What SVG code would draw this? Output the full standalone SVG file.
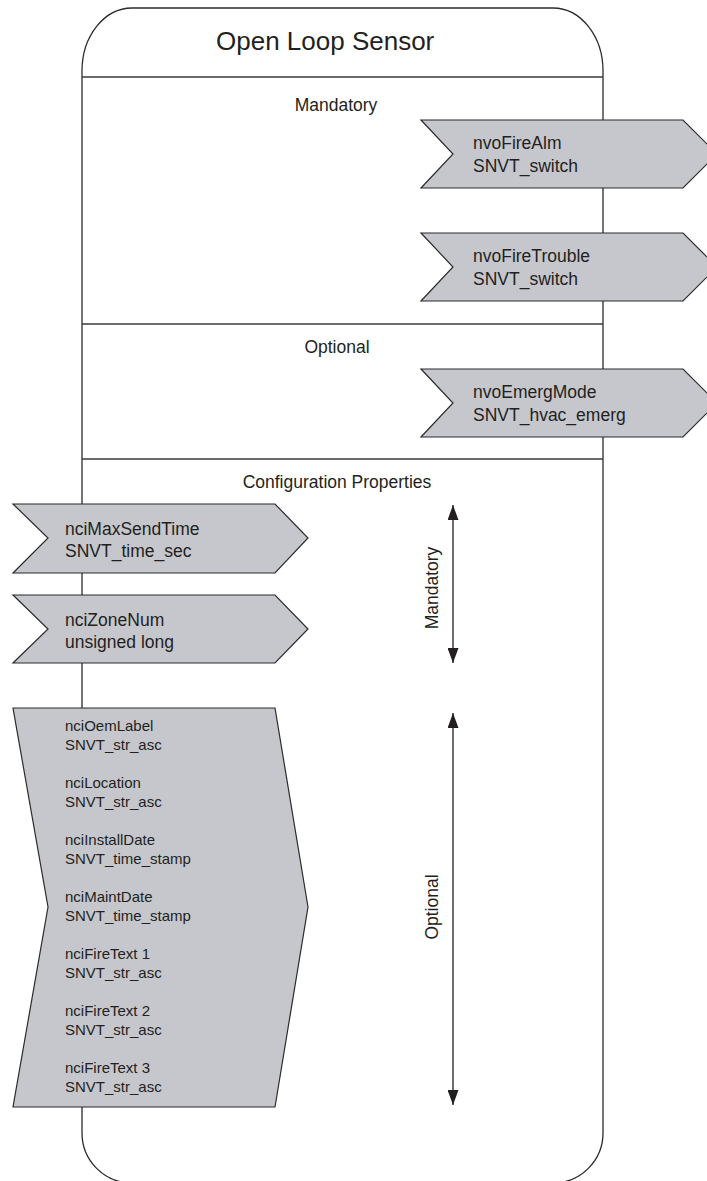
<svg xmlns="http://www.w3.org/2000/svg" width="707" height="1181" viewBox="0 0 707 1181">
<style>
  .frame { fill: #ffffff; stroke: #2b2b2b; stroke-width: 1.3; }
  .divider { stroke: #3a3a3a; stroke-width: 1.5; fill: none; }
  .dp { fill: #c5c7cd; stroke: #2b2b2b; stroke-width: 1.2; stroke-linejoin: miter; }
  .t { font-family: "Liberation Sans", Arial, sans-serif; fill: #231f20; }
  .title { font-size: 26px; }
  .head { font-size: 17.5px; }
  .lbl { font-size: 17.5px; }
  .small { font-size: 15px; }
  .span { stroke: #231f20; stroke-width: 1.3; fill: none; }
</style>
<defs>
  <marker id="ah" viewBox="0 0 15 11" refX="15" refY="5.5" markerWidth="15" markerHeight="11" markerUnits="userSpaceOnUse" orient="auto-start-reverse">
    <path d="M0,0 L15,5.5 L0,11 Z" fill="#231f20"/>
  </marker>
</defs>

<g id="container">
  <path class="frame" d="M82,71 A50,63 0 0 1 132,8 L553,8 A50,63 0 0 1 603,71 L603,1133 A50,50 0 0 1 553,1183 L132,1183 A50,50 0 0 1 82,1133 Z"/>
  <line class="divider" x1="82" y1="77" x2="603" y2="77"/>
  <line class="divider" x1="82" y1="324" x2="603" y2="324"/>
  <line class="divider" x1="82" y1="459" x2="603" y2="459"/>
  <text class="t title" x="216" y="50">Open Loop Sensor</text>
  <text class="t head" x="336" y="111" text-anchor="middle">Mandatory</text>
  <text class="t head" x="337" y="353" text-anchor="middle">Optional</text>
  <text class="t head" x="337" y="488" text-anchor="middle">Configuration Properties</text>
</g>

<g id="nvoFireAlm">
  <polygon class="dp" points="421,120 683,120 717,154 683,188 421,188 453,154"/>
  <text class="t lbl" x="473" y="149">nvoFireAlm</text>
  <text class="t lbl" x="473" y="172">SNVT_switch</text>
</g>

<g id="nvoFireTrouble">
  <polygon class="dp" points="421,233 683,233 717,267 683,301 421,301 453,267"/>
  <text class="t lbl" x="473" y="262">nvoFireTrouble</text>
  <text class="t lbl" x="473" y="285">SNVT_switch</text>
</g>

<g id="nvoEmergMode">
  <polygon class="dp" points="421,369 683,369 717,403 683,437 421,437 453,403"/>
  <text class="t lbl" x="473" y="398">nvoEmergMode</text>
  <text class="t lbl" x="473" y="421">SNVT_hvac_emerg</text>
</g>

<g id="nciMaxSendTime">
  <polygon class="dp" points="13,504 275,504 308,538 275,573 13,573 48,538"/>
  <text class="t lbl" x="65" y="535">nciMaxSendTime</text>
  <text class="t lbl" x="65" y="557">SNVT_time_sec</text>
</g>

<g id="nciZoneNum">
  <polygon class="dp" points="13,595 275,595 308,629 275,663 13,663 48,629"/>
  <text class="t lbl" x="65" y="626">nciZoneNum</text>
  <text class="t lbl" x="65" y="648">unsigned long</text>
</g>

<g id="optionalConfig">
  <polygon class="dp" points="13,708 275,708 308,907 275,1107 13,1107 48,907"/>
  <text class="t small" x="65" y="731">nciOemLabel</text>
  <text class="t small" x="65" y="750">SNVT_str_asc</text>
  <text class="t small" x="65" y="788">nciLocation</text>
  <text class="t small" x="65" y="807">SNVT_str_asc</text>
  <text class="t small" x="65" y="845">nciInstallDate</text>
  <text class="t small" x="65" y="864">SNVT_time_stamp</text>
  <text class="t small" x="65" y="902">nciMaintDate</text>
  <text class="t small" x="65" y="921">SNVT_time_stamp</text>
  <text class="t small" x="65" y="959">nciFireText 1</text>
  <text class="t small" x="65" y="978">SNVT_str_asc</text>
  <text class="t small" x="65" y="1016">nciFireText 2</text>
  <text class="t small" x="65" y="1035">SNVT_str_asc</text>
  <text class="t small" x="65" y="1073">nciFireText 3</text>
  <text class="t small" x="65" y="1092">SNVT_str_asc</text>
</g>

<g id="connectors">
  <line class="span" x1="453" y1="505" x2="453" y2="663" marker-start="url(#ah)" marker-end="url(#ah)"/>
  <line class="span" x1="453" y1="713" x2="453" y2="1105" marker-start="url(#ah)" marker-end="url(#ah)"/>
</g>

<g id="rangeLabels">
  <text class="t head" transform="translate(438,588) rotate(-90)" text-anchor="middle">Mandatory</text>
  <text class="t head" transform="translate(438,907) rotate(-90)" text-anchor="middle">Optional</text>
</g>
</svg>
